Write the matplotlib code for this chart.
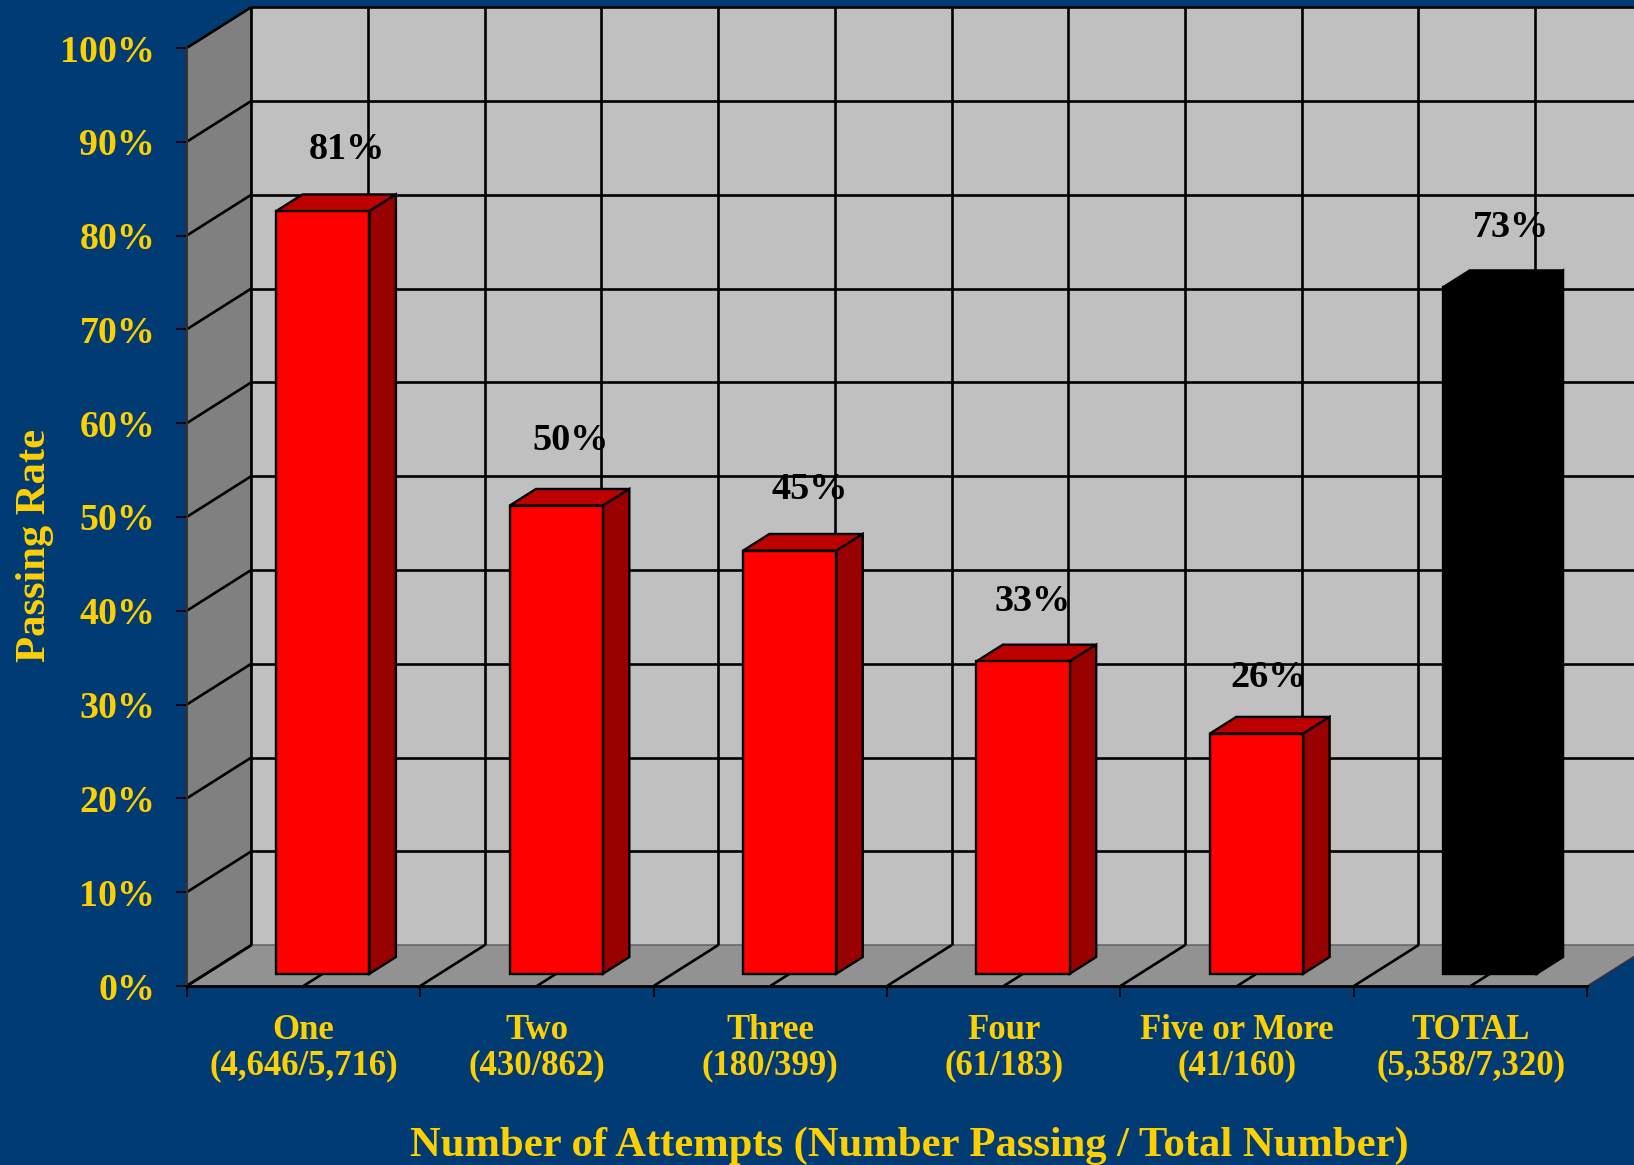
import matplotlib
matplotlib.use("Agg")
import matplotlib.pyplot as plt
from matplotlib.patches import Polygon

categories = ["One\n(4,646/5,716)", "Two\n(430/862)", "Three\n(180/399)",
              "Four\n(61/183)", "Five or More\n(41/160)", "TOTAL\n(5,358/7,320)"]
passing_rate = [81.3, 49.9, 45.1, 33.3, 25.6, 73.2]
value_labels = ["81%", "50%", "45%", "33%", "26%", "73%"]
y_ticks = [0, 10, 20, 30, 40, 50, 60, 70, 80, 90, 100]
y_tick_labels = [f"{v}%" for v in y_ticks]

BG = "#003B73"
YEL = "#FFD000"
W, H = 1634, 1165
X0, X1, Y0, Y1 = 186.7, 1587.3, 986.0, 48.0     # front plane in pixels

plt.rcParams["font.family"] = ["Liberation Serif", "DejaVu Serif"]
plt.rcParams["font.weight"] = "bold"

fig = plt.figure(figsize=(W / 100, H / 100), dpi=100, facecolor=BG)
ax = fig.add_axes([X0 / W, 1 - Y0 / H, (X1 - X0) / W, (Y0 - Y1) / H])
ax.patch.set_visible(False)
n = len(categories)
ax.set_xlim(0, n)
ax.set_ylim(0, 100)

# depth shear expressed in data units
DX = 64.5 / ((X1 - X0) / n)
DY = 40.8 / ((Y0 - Y1) / 100)


def P(x, y, d=0.0):
    return (x + d * DX, y + d * DY)


def poly(pts, fc, ec="black", lw=1.5, z=1):
    ax.add_patch(Polygon(pts, closed=True, facecolor=fc, edgecolor=ec, linewidth=lw,
                         zorder=z, clip_on=False, joinstyle="miter"))


def line(a, b, color="black", lw=1.9, z=2):
    ax.plot([a[0], b[0]], [a[1], b[1]], color=color, lw=lw, zorder=z,
            clip_on=False, solid_capstyle="butt")


xr = n + DX + 0.2
# walls
poly([P(0, 0, 1), P(xr, 0, 1), P(xr, 100, 1), P(0, 100, 1)], "#C0C0C0", "none", 0, 1)
poly([P(0, 0), P(0, 0, 1), P(0, 100, 1), P(0, 100)], "#808080", "#333333", 1.4, 1.5)
poly([P(0, 0), P(n, 0), P(n, 0, 1), P(xr, 0, 1), P(0, 0, 1)], "#929292", "none", 0, 1.5)
line(P(0, 0, 1), P(xr, 0, 1), "#6a6a6a", 1.2)
line(P(n, 0), P(n, 0, 1), "#333333", 1.0)

# gridlines
for v in y_ticks[1:]:
    line(P(0, v), P(0, v, 1))
    line(P(0, v, 1), P(xr, v, 1))
line(P(0, 0), P(0, 0, 1))
k = 0.0
while k < n:
    line(P(k, 0, 1), P(k, 100, 1), z=2)
    line(P(k, 0), P(k, 0, 1), z=2)
    k += 0.5

# bars
bw, d0, d1 = 0.4, 0.30, 0.71
for i, v in enumerate(passing_rate):
    xa, xb = i + 0.5 - bw / 2, i + 0.5 + bw / 2
    last = i == n - 1
    front = "black" if last else "#FF0000"
    top = "black" if last else "#BD0000"
    side = "black" if last else "#990000"
    ec = "black"
    poly([P(xa, v, d0), P(xb, v, d0), P(xb, v, d1), P(xa, v, d1)], top, ec, 1.7, 3)
    poly([P(xb, 0, d0), P(xb, 0, d1), P(xb, v, d1), P(xb, v, d0)], side, ec, 1.7, 3)
    poly([P(xa, 0, d0), P(xb, 0, d0), P(xb, v, d0), P(xa, v, d0)], front, ec, 1.7, 3.5)

# value labels, placed relative to the top of each bar (pixels -> points)
lab_dx = [24.5, 14, 20, 10, 12, 21]
lab_dy = [62, 65, 61, 60, 56, 60]
for i, (v, s) in enumerate(zip(passing_rate, value_labels)):
    bx, by = P(i + 0.5, v, d0)
    ax.annotate(s, xy=(bx, by), xytext=(lab_dx[i] * 0.72, lab_dy[i] * 0.72),
                textcoords="offset points", ha="center", va="center",
                fontsize=27.5, color="black", zorder=5, annotation_clip=False)

# axes furniture
for s in ("top", "right"):
    ax.spines[s].set_visible(False)
ax.spines["bottom"].set_linewidth(2.0)
ax.spines["left"].set_linewidth(1.4)
ax.spines["left"].set_color("#333333")
ax.spines["bottom"].set_zorder(4)

ax.set_yticks(y_ticks)
ax.set_yticklabels(y_tick_labels, fontsize=27.3, color=YEL, fontweight="bold")
ax.tick_params(axis="y", length=8, width=1.3, color="black", pad=14.7)
ax.set_xticks(range(n + 1))
ax.set_xticklabels([])
ax.set_xticks([i + 0.5 for i in range(n)], minor=True)
ax.set_xticklabels(categories, minor=True, fontsize=25, color=YEL, fontweight="bold",
                   linespacing=1.12)
ax.tick_params(axis="x", which="major", length=8, width=1.3, color="black")
ax.tick_params(axis="x", which="minor", length=0, pad=20)

ax.set_xlabel("Number of Attempts (Number Passing / Total Number)", fontsize=30.7,
              color=YEL, fontweight="bold", va="center")
ax.xaxis.set_label_coords((909 - X0) / (X1 - X0), -(1146 - Y0) / (Y0 - Y1))
ax.set_ylabel("Passing Rate", fontsize=30.7, color=YEL, fontweight="bold", va="center")
ax.yaxis.set_label_coords((35 - X0) / (X1 - X0), (Y0 - 545.6) / (Y0 - Y1))

fig.savefig("out.png", dpi=100, facecolor=BG)
